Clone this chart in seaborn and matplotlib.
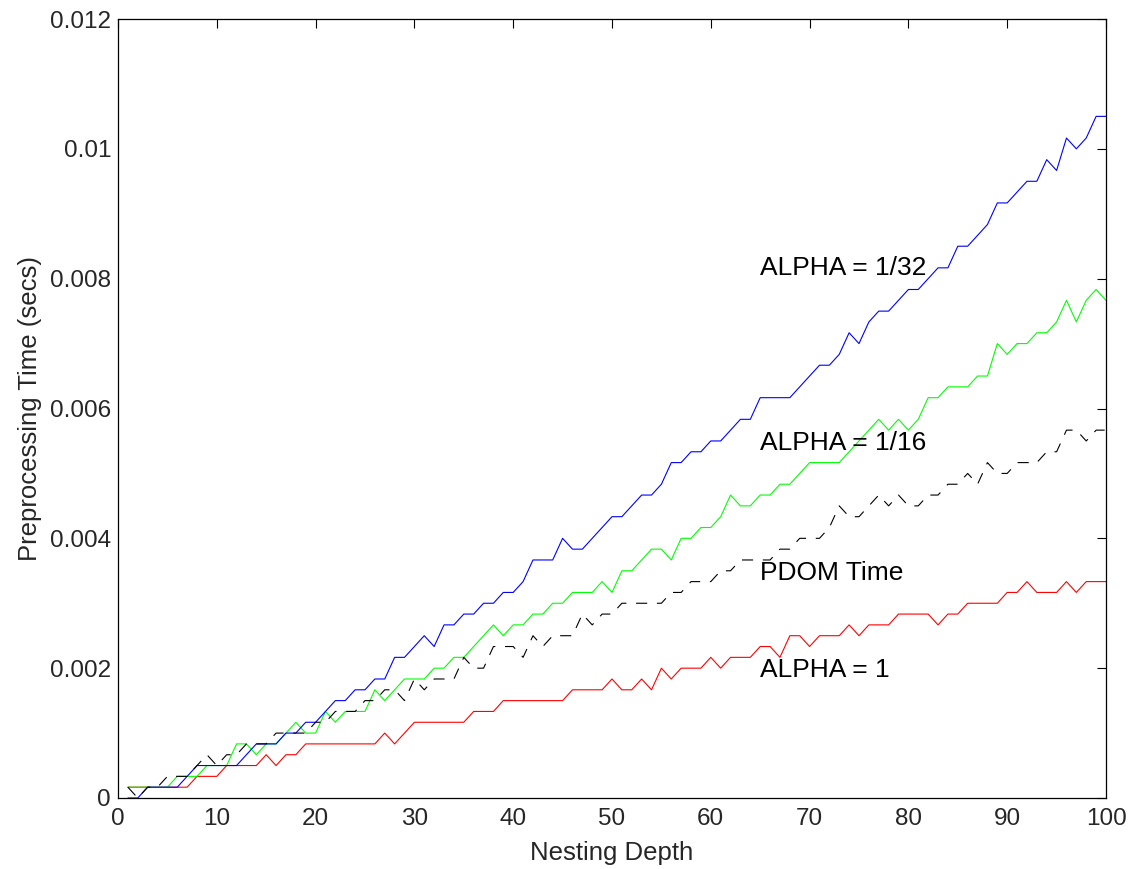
import numpy as np
import pandas as pd
import matplotlib
matplotlib.use("Agg")
import matplotlib.pyplot as plt
import seaborn as sns

# Data (times in units of 1/6000 s)
depth = list(range(1, 101))
Q = 1.0 / 6000.0

alpha_1 = [1, 1, 1, 1, 1, 1, 1, 2, 2, 2,
           3, 3, 3, 3, 4, 3, 4, 4, 5, 5,
           5, 5, 5, 5, 5, 5, 6, 5, 6, 7,
           7, 7, 7, 7, 7, 8, 8, 8, 9, 9,
           9, 9, 9, 9, 9, 10, 10, 10, 10, 11,
           10, 10, 11, 10, 12, 11, 12, 12, 12, 13,
           12, 13, 13, 13, 14, 14, 13, 15, 15, 14,
           15, 15, 15, 16, 15, 16, 16, 16, 17, 17,
           17, 17, 16, 17, 17, 18, 18, 18, 18, 19,
           19, 20, 19, 19, 19, 20, 19, 20, 20, 20]

alpha_1_16 = [1, 1, 1, 1, 1, 2, 2, 2, 3, 3,
              3, 5, 5, 4, 5, 5, 6, 7, 6, 6,
              8, 7, 8, 8, 8, 10, 9, 10, 11, 11,
              11, 12, 12, 13, 13, 14, 15, 16, 15, 16,
              16, 17, 17, 18, 18, 19, 19, 19, 20, 19,
              21, 21, 22, 23, 23, 22, 24, 24, 25, 25,
              26, 28, 27, 27, 28, 28, 29, 29, 30, 31,
              31, 31, 31, 32, 33, 34, 35, 34, 35, 34,
              35, 37, 37, 38, 38, 38, 39, 39, 42, 41,
              42, 42, 43, 43, 44, 46, 44, 46, 47, 46]

alpha_1_32 = [0, 0, 1, 1, 1, 1, 2, 3, 3, 3,
              3, 3, 4, 5, 5, 5, 6, 6, 7, 7,
              8, 9, 9, 10, 10, 11, 11, 13, 13, 14,
              15, 14, 16, 16, 17, 17, 18, 18, 19, 19,
              20, 22, 22, 22, 24, 23, 23, 24, 25, 26,
              26, 27, 28, 28, 29, 31, 31, 32, 32, 33,
              33, 34, 35, 35, 37, 37, 37, 37, 38, 39,
              40, 40, 41, 43, 42, 44, 45, 45, 46, 47,
              47, 48, 49, 49, 51, 51, 52, 53, 55, 55,
              56, 57, 57, 59, 58, 61, 60, 61, 63, 63]

pdom = [1, 0, 1, 1, 2, 2, 2, 3, 4, 3,
        4, 4, 5, 5, 5, 6, 6, 6, 6, 7,
        7, 8, 8, 8, 9, 9, 10, 10, 9, 11,
        10, 11, 11, 11, 13, 12, 12, 14, 14, 14,
        13, 15, 14, 15, 15, 15, 17, 16, 17, 17,
        18, 18, 18, 18, 18, 19, 19, 20, 20, 20,
        21, 21, 22, 22, 22, 22, 23, 23, 24, 24,
        24, 25, 27, 26, 26, 27, 28, 27, 28, 27,
        27, 28, 28, 29, 29, 30, 29, 31, 30, 30,
        31, 31, 31, 32, 32, 34, 34, 33, 34, 34]

series_names = ["ALPHA = 1", "ALPHA = 1/16", "ALPHA = 1/32", "PDOM Time"]
series_values = [alpha_1, alpha_1_16, alpha_1_32, pdom]
series_colors = ["#ff0000", "#00ff00", "#0000ff", "#000000"]

label_texts = ["ALPHA = 1/32", "ALPHA = 1/16", "PDOM Time", "ALPHA = 1"]
label_x = [65, 65, 65, 65]
label_y = [0.00817, 0.00547, 0.00347, 0.00197]

xticks = list(range(0, 101, 10))
yticks = [0, 0.002, 0.004, 0.006, 0.008, 0.010, 0.012]
ytick_labels = ["0", "0.002", "0.004", "0.006", "0.008", "0.01", "0.012"]

# Long-form table
frames = []
for name, vals in zip(series_names, series_values):
    frames.append(pd.DataFrame({"depth": depth,
                                "time": np.array(vals) * Q,
                                "series": name}))
df = pd.concat(frames, ignore_index=True)

sns.set_style("white")
plt.rcParams["font.family"] = ["Liberation Sans", "DejaVu Sans"]
plt.rcParams["lines.scale_dashes"] = False

fig = plt.figure(figsize=(11.36, 8.69), dpi=100)
ax = fig.add_axes([118 / 1136, 1 - 798 / 869, (1106 - 118) / 1136, (798 - 19) / 869])

palette = dict(zip(series_names, series_colors))
dashes = {"ALPHA = 1": "", "ALPHA = 1/16": "", "ALPHA = 1/32": "",
          "PDOM Time": (8, 7)}
sns.lineplot(data=df, x="depth", y="time", hue="series", style="series",
             hue_order=series_names, style_order=series_names,
             palette=palette, dashes=dashes, linewidth=0.8,
             legend=False, ax=ax, estimator=None)

ax.set_xlim(0, 100)
ax.set_ylim(0, 0.012)
ax.set_xticks(xticks)
ax.set_xticklabels([str(t) for t in xticks])
ax.set_yticks(yticks)
ax.set_yticklabels(ytick_labels)
ax.tick_params(axis="both", which="both", direction="in", length=6.5,
               width=0.8, top=True, right=True, labelsize=17.5, color="black")
ax.tick_params(axis="x", pad=7)
ax.tick_params(axis="y", pad=5)
for sp in ax.spines.values():
    sp.set_visible(True)
    sp.set_color("black")
    sp.set_linewidth(0.9)

ax.set_xlabel("Nesting Depth", fontsize=18.5, labelpad=8)
ax.set_ylabel("Preprocessing Time (secs)", fontsize=18.5, labelpad=6)

for t, x, y in zip(label_texts, label_x, label_y):
    ax.text(x, y, t, fontsize=19, va="center", ha="left", color="black")

fig.savefig("out.png", dpi=100)
